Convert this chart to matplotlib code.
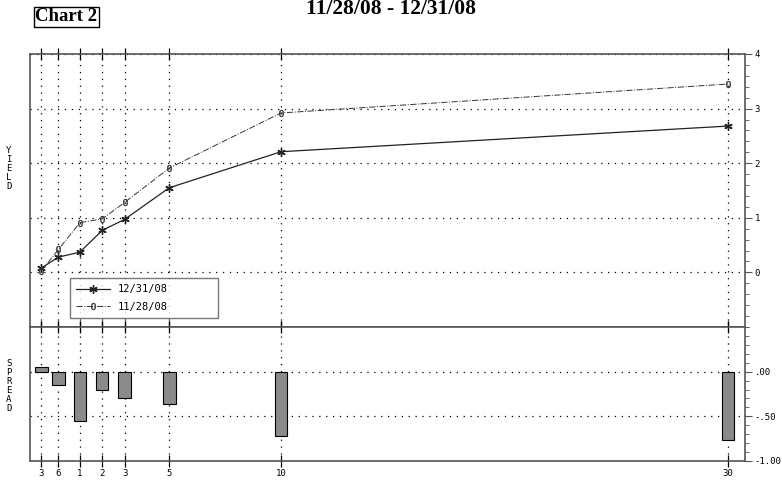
import numpy as np
import matplotlib.pyplot as plt
from matplotlib.ticker import MultipleLocator, FixedLocator

# maturities and where the original chart puts them on its x axis
mat_labels = ['3', '6', '1', '2', '3', '5', '10', '30']
mat_pos = [-0.72, 0.04, 1, 2, 3, 5, 10, 30]

# yields
y_1231 = [0.08, 0.28, 0.37, 0.77, 0.97, 1.55, 2.21, 2.68]
y_1128 = [0.03, 0.42, 0.91, 0.98, 1.28, 1.91, 2.92, 3.45]
spread = [0.05, -0.15, -0.55, -0.21, -0.30, -0.36, -0.72, -0.77]

mono = 'DejaVu Sans Mono'
frame = '#555555'
dots = (0, (1, 4.5))

fig = plt.figure(figsize=(7.82, 4.82), dpi=100)
ax = fig.add_axes([0.0384, 0.3216, 0.9143, 0.5664])
ax2 = fig.add_axes([0.0384, 0.0436, 0.9143, 0.2780], sharex=ax)

xlim = (-1.23, 30.76)
for a in (ax, ax2):
    a.set_xlim(*xlim)
    for s in a.spines.values():
        s.set_color(frame)
        s.set_linewidth(1.2)
    a.yaxis.tick_right()
    a.xaxis.set_major_locator(FixedLocator(mat_pos))
    a.grid(True, axis='both', which='major', color='black', linestyle=dots, linewidth=0.9)
    a.set_axisbelow(True)
    a.tick_params(axis='x', which='major', direction='inout', length=9, width=0.9,
                  color='black', top=True, bottom=True)
    a.tick_params(axis='y', which='both', direction='out', right=True, left=False,
                  color=frame, labelsize=6.5, pad=2)
    a.tick_params(axis='y', which='major', length=5)
    a.tick_params(axis='y', which='minor', length=3)

# upper panel: yield curves
ax.set_ylim(-1, 4)
ax.yaxis.set_major_locator(FixedLocator([0, 1, 2, 3, 4]))
ax.yaxis.set_minor_locator(MultipleLocator(0.2))
ax.set_yticklabels(['0', '1', '2', '3', '4'], family=mono)
ax.tick_params(axis='x', labelbottom=False)

ax.plot(mat_pos, y_1231, '-', color='#222222', lw=0.9, marker=(6, 2, 0), ms=6,
        markeredgewidth=1.0, label='12/31/08')
ax.plot(mat_pos, y_1128, '-.', color='#333333', lw=0.7, marker='$0$', ms=5,
        markeredgewidth=0.3, label='11/28/08')

leg = ax.legend(loc='center', bbox_to_anchor=(0.056, 0.029, 0.207, 0.154), mode='expand',
                prop={'family': mono, 'size': 7.5}, frameon=True, fancybox=False,
                borderpad=0.6, handlelength=3.2, labelspacing=0.7, borderaxespad=0,
                edgecolor=frame)
leg.get_frame().set_linewidth(1.0)
leg.set_zorder(5)

ax.text(-0.03, 0.58, 'Y\nI\nE\nL\nD', transform=ax.transAxes, ha='center', va='center',
        family=mono, fontsize=6.5, linespacing=1.0)

# lower panel: spread bars
ax2.set_ylim(-1, 0.5)
ax2.yaxis.set_major_locator(FixedLocator([-1.0, -0.5, 0.0]))
ax2.yaxis.set_minor_locator(MultipleLocator(0.1))
ax2.set_yticklabels(['-1.00', '-.50', '.00'], family=mono)
ax2.bar(mat_pos, spread, width=0.56, color='#8a8a8a', edgecolor='black', linewidth=0.8,
        zorder=3)
ax2.set_xticklabels(mat_labels, family=mono, fontsize=6.5)
ax2.tick_params(axis='x', pad=1)
ax2.text(-0.03, 0.56, 'S\nP\nR\nE\nA\nD', transform=ax2.transAxes, ha='center', va='center',
         family=mono, fontsize=6.5, linespacing=1.0)

# titles
fig.text(0.5, 0.982, '11/28/08 - 12/31/08', ha='center', va='center', family='Liberation Serif',
         fontsize=15.5, fontweight='bold')
fig.text(0.045, 0.965, 'Chart 2', ha='left', va='center', family='Liberation Serif',
         fontsize=13.5, fontweight='bold',
         bbox=dict(boxstyle='square,pad=0.08', facecolor='white', edgecolor='black', linewidth=1.0))

fig.savefig('out.png', dpi=100)
